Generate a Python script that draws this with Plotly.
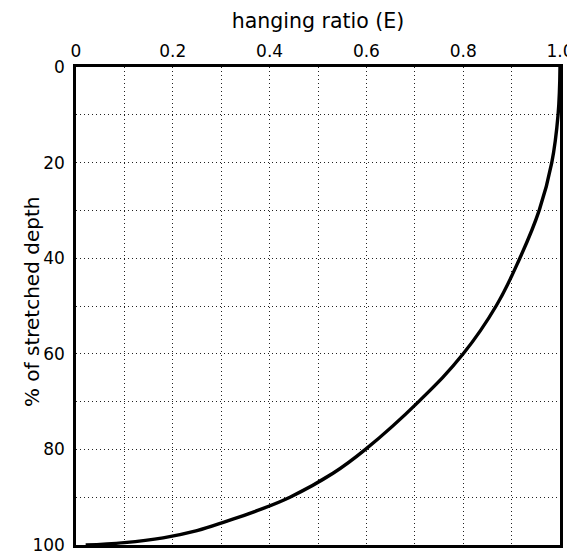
import plotly.graph_objects as go

depth_pct = [0, 10, 20, 30, 40, 50, 60, 70, 80, 85, 90, 93, 95, 97, 98.5, 99.5, 100]
hanging_ratio = [1.0, 0.996, 0.983, 0.957, 0.917, 0.868, 0.800, 0.708, 0.598, 0.531,
                 0.442, 0.369, 0.312, 0.250, 0.180, 0.100, 0.02]

x_tickvals = [0, 0.2, 0.4, 0.6, 0.8, 1.0]
x_ticktext = ["0", "0.2", "0.4", "0.6", "0.8", "1.0"]
y_tickvals = [0, 20, 40, 60, 80, 100]
y_ticktext = ["0", "20", "40", "60", "80", "100"]

font_family = "DejaVu Sans, sans-serif"
grid_col = "#222222"
grid_dash = "1px,3px"

fig = go.Figure()
fig.add_trace(go.Scatter(
    x=hanging_ratio, y=depth_pct, mode="lines",
    line=dict(color="black", width=3.4, shape="spline", smoothing=1.2),
    showlegend=False,
))

fig.update_layout(
    width=575, height=557,
    margin=dict(l=68, r=23, t=59, b=20),
    paper_bgcolor="white", plot_bgcolor="white",
    font=dict(family=font_family, color="black", size=17),
    xaxis=dict(
        side="top", range=[0, 1.0], automargin=False,
        tickvals=x_tickvals, ticktext=x_ticktext,
        showgrid=True, gridcolor=grid_col, gridwidth=1, griddash=grid_dash,
        minor=dict(dtick=0.1, showgrid=True, gridcolor=grid_col, gridwidth=1, griddash=grid_dash, ticks=""),
        showline=True, linecolor="black", linewidth=2.5, mirror=True,
        ticks="", ticklabelstandoff=0, zeroline=False,
        title=dict(text="hanging ratio (E)", font=dict(size=20.5), standoff=8),
        tickfont=dict(size=17),
    ),
    yaxis=dict(
        range=[100, 0], automargin=False,
        tickvals=y_tickvals, ticktext=y_ticktext,
        showgrid=True, gridcolor=grid_col, gridwidth=1, griddash=grid_dash,
        minor=dict(dtick=10, showgrid=True, gridcolor=grid_col, gridwidth=1, griddash=grid_dash, ticks=""),
        showline=True, linecolor="black", linewidth=2.5, mirror=True,
        ticks="", ticklabelstandoff=5, zeroline=False,
        tickfont=dict(size=17),
    ),
    annotations=[dict(
        text="% of stretched depth", textangle=-90,
        xref="paper", yref="paper", x=0, y=0.5, xanchor="center", yanchor="middle",
        xshift=-44, yshift=4, showarrow=False, font=dict(size=20),
    )],
)

fig.write_html("out.html")
